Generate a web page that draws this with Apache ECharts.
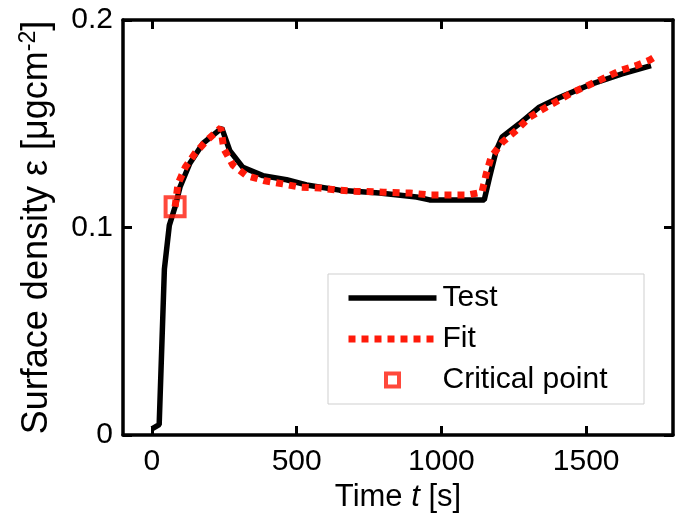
<!DOCTYPE html>
<html>
<head>
<meta charset="utf-8">
<script src="https://cdn.jsdelivr.net/npm/echarts@6/dist/echarts.min.js"></script>
<style>
  html, body { margin: 0; padding: 0; background: #fff; }
  #chart { width: 685px; height: 522px; }
</style>
</head>
<body>
<div id="chart"></div>
<script>
// measured test curve [t (s), surface density]
var testData = [
    [0, 0.003], [25, 0.005], [43, 0.08], [60, 0.101], [80, 0.11], [97, 0.1195],
    [131, 0.131], [176, 0.1405], [224, 0.146], [241, 0.148], [269, 0.137],
    [314, 0.129], [383, 0.125], [465, 0.123], [534, 0.1205], [648, 0.118],
    [786, 0.1166], [914, 0.1147], [959, 0.1133], [1038, 0.1133], [1148, 0.1133],
    [1166, 0.124], [1189, 0.137], [1210, 0.1437], [1269, 0.150], [1338, 0.158],
    [1397, 0.162], [1510, 0.1687], [1624, 0.174], [1724, 0.178]
];
// fitted curve
var fitData = [
    [80, 0.110], [90, 0.121], [115, 0.129], [150, 0.136], [190, 0.142], [238, 0.148],
    [248, 0.138], [280, 0.130], [327, 0.125], [390, 0.1225], [452, 0.121],
    [510, 0.1195], [580, 0.119], [640, 0.118], [700, 0.1175], [800, 0.117],
    [890, 0.1166], [960, 0.1157], [1030, 0.1157], [1090, 0.1157], [1140, 0.117],
    [1155, 0.126], [1172, 0.134], [1210, 0.141], [1260, 0.147], [1303, 0.153],
    [1362, 0.158], [1414, 0.162], [1452, 0.165], [1510, 0.1687], [1570, 0.1725],
    [1625, 0.176], [1672, 0.178], [1720, 0.1807], [1735, 0.182]
];
var criticalPoint = [[80, 0.110]];
var xTicks = [0, 500, 1000, 1500];

var font = 'Liberation Sans, Arial, sans-serif';
var red = '#ff1a0a';
var chart = echarts.init(document.getElementById('chart'));

var axisLine = { show: true, onZero: false, lineStyle: { color: '#000', width: 3.5 } };
var axisTick = { show: true, inside: true, length: 9, lineStyle: { color: '#000', width: 3 } };
var xTick = { show: true, inside: true, length: 9, customValues: xTicks, lineStyle: { color: '#000', width: 3 } };

var option = {
    backgroundColor: '#fff',
    animation: false,
    grid: { left: 123, right: 12, top: 20, bottom: 87 },
    xAxis: [
        {
            type: 'value', min: -100, max: 1800,
            axisLine: axisLine,
            axisTick: xTick,
            axisLabel: {
                customValues: xTicks, color: '#000', fontSize: 30, fontFamily: font, margin: 12,
                formatter: function (v) { return String(v); }
            },
            splitLine: { show: false },
            name: 'Time {i|t} [s]',
            nameLocation: 'middle',
            nameGap: 45,
            nameTextStyle: {
                color: '#000', fontSize: 31, fontFamily: font,
                rich: { i: { fontStyle: 'italic', fontSize: 31, fontFamily: font, color: '#000' } }
            }
        },
        {
            type: 'value', min: -100, max: 1800, position: 'top',
            axisLine: axisLine,
            axisTick: xTick,
            axisLabel: { show: false },
            splitLine: { show: false }
        }
    ],
    yAxis: [
        {
            type: 'value', min: 0, max: 0.2, interval: 0.1,
            axisLine: axisLine,
            axisTick: axisTick,
            axisLabel: {
                color: '#000', fontSize: 30, fontFamily: font, margin: 10,
                formatter: function (v) { return v === 0 ? '0' : v.toFixed(1); }
            },
            splitLine: { show: false },
            name: 'Surface density ε [μgcm{sup|-2}]',
            nameLocation: 'middle',
            nameGap: 66,
            nameTextStyle: {
                color: '#000', fontSize: 36, fontFamily: font,
                rich: { sup: { fontSize: 23, fontFamily: font, color: '#000', verticalAlign: 'bottom', padding: [0, 0, 17, 0] } }
            }
        },
        {
            type: 'value', min: 0, max: 0.2, interval: 0.1, position: 'right',
            axisLine: axisLine,
            axisTick: axisTick,
            axisLabel: { show: false },
            splitLine: { show: false }
        }
    ],
    legend: {
        orient: 'vertical',
        left: 345,
        top: 281,
        itemWidth: 88,
        itemHeight: 13,
        itemGap: 7,
        padding: 0,
        symbolKeepAspect: true,
        lineStyle: { width: 'inherit', type: 'inherit' },
        textStyle: { color: '#000', fontSize: 30, fontFamily: font, lineHeight: 34, padding: [0, 0, 0, 1] },
        data: [
            { name: 'Test', itemStyle: { opacity: 0 } },
            { name: 'Fit', itemStyle: { opacity: 0 } },
            {
                name: 'Critical point', icon: 'path://M0,0H10V10H0Z',
                itemStyle: { color: '#fff', borderColor: red, borderWidth: 4 }
            }
        ]
    },
    graphic: [{
        type: 'rect',
        shape: { x: 328, y: 274, width: 316, height: 130 },
        style: { fill: 'none', stroke: '#cfcfcf', lineWidth: 1 },
        z: 1
    }],
    series: [
        {
            name: 'Test', type: 'line', data: testData,
            symbol: 'none', smooth: false,
            lineStyle: { color: '#000', width: 5.5 },
            itemStyle: { color: '#000' },
            z: 2
        },
        {
            name: 'Fit', type: 'line', data: fitData,
            symbol: 'none', smooth: false,
            lineStyle: { color: red, width: 7, type: [7, 6], cap: 'butt' },
            itemStyle: { color: red },
            z: 3
        },
        {
            name: 'Critical point', type: 'scatter', data: criticalPoint,
            symbol: 'rect', symbolSize: 19,
            itemStyle: { color: 'rgba(255,255,255,0)', borderColor: red, borderWidth: 4 },
            z: 4
        }
    ]
};
chart.setOption(option);
</script>
</body>
</html>
